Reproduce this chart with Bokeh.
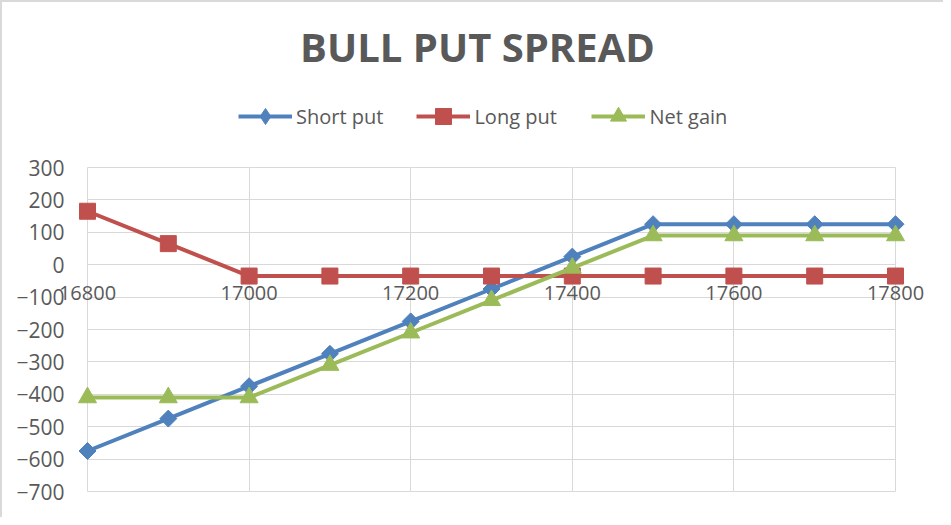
import numpy as np
from bokeh.plotting import figure
from bokeh.layouts import column
from bokeh.models import (FixedTicker, Range1d, Legend, LegendItem, Grid, ColumnDataSource, Label)
from bokeh.core.properties import value
from bokeh.embed import file_html
from bokeh.resources import INLINE

# ---- data ----
strikes = [16800, 16900, 17000, 17100, 17200, 17300, 17400, 17500, 17600, 17700, 17800]
short_put = [-575, -475, -375, -275, -175, -75, 25, 125, 125, 125, 125]
long_put = [165, 65, -35, -35, -35, -35, -35, -35, -35, -35, -35]
net_gain = [-410, -410, -410, -310, -210, -110, -10, 90, 90, 90, 90]
x_ticks = [16800, 17000, 17200, 17400, 17600, 17800]
y_ticks = [-700, -600, -500, -400, -300, -200, -100, 0, 100, 200, 300]
x_axis_cross = 0
series_names = ["Short put", "Long put", "Net gain"]
title_text = "BULL PUT SPREAD"

# ---- styles ----
BLUE, RED, GREEN = "#4F81BD", "#C0504D", "#9BBB59"
TXT = "#595959"
GRID = "#D9D9D9"
FONT = "Open Sans"
W, HEAD_H, MAIN_H = 941, 150, 365

# ---- header (title + legend) ----
head = figure(width=W, height=HEAD_H, x_range=Range1d(0, 1), y_range=Range1d(0, 1),
              output_backend="svg", toolbar_location=None,
              x_axis_location=None, y_axis_location=None, min_border=0)
head.outline_line_color = None
head.xgrid.visible = False
head.ygrid.visible = False

head.add_layout(Label(x=390, y=106, x_units="screen", y_units="screen", text=title_text,
                      text_align="center", text_baseline="alphabetic", text_font=FONT,
                      text_font_style="bold", text_font_size="40px", text_color=TXT))

# ---- main chart ----
p = figure(width=W, height=MAIN_H,
           x_range=Range1d(x_ticks[0], x_ticks[-1]), y_range=Range1d(y_ticks[0], y_ticks[-1]),
           output_backend="svg", toolbar_location=None, x_axis_location=None,
           min_border_left=85, min_border_right=48, min_border_top=15, min_border_bottom=26)
p.outline_line_color = GRID
p.outline_line_width = 1

ya = p.yaxis[0]
ya.ticker = FixedTicker(ticks=y_ticks)
ya.axis_line_color = None
ya.major_tick_line_color = None
ya.minor_tick_line_color = None
ya.major_tick_out = 0
ya.major_tick_in = 0
ya.major_label_standoff = 23
ya.major_label_text_font = FONT
ya.major_label_text_font_size = "21px"
ya.major_label_text_color = TXT
p.ygrid.ticker = FixedTicker(ticks=y_ticks)
p.ygrid.grid_line_color = GRID
p.ygrid.grid_line_width = 1
p.add_layout(Grid(dimension=0, ticker=FixedTicker(ticks=x_ticks),
                  grid_line_color=GRID, grid_line_width=1))

# x tick labels on the horizontal axis crossing at y = 0
xsrc = ColumnDataSource(dict(x=x_ticks, y=[x_axis_cross] * len(x_ticks),
                             t=[str(v) for v in x_ticks]))
p.text(x="x", y="y", text="t", source=xsrc, text_align="center", text_baseline="top",
       y_offset=21, text_font=value(FONT), text_font_size="20px", text_color=TXT,
       level="overlay")

# (series values, colour, plot marker, size, angle, legend marker)
specs = [(short_put, BLUE, "square", 12, np.pi / 4, "diamond"),
         (long_put, RED, "square", 16, 0, "square"),
         (net_gain, GREEN, "triangle", 18, 0, "triangle")]
items = []
for name, (vals, col, mk, sz, ang, lmk) in zip(series_names, specs):
    p.line(strikes, vals, line_color=col, line_width=4, level="overlay")
    p.scatter(strikes, vals, marker=mk, size=sz, angle=ang, fill_color=col,
              line_color=col, level="overlay")
    # legend swatches in the header (same series, lying outside the header's view)
    hl = head.line(strikes, vals, line_color=col, line_width=4)
    hs = head.scatter(strikes, vals, marker=lmk, size=sz, fill_color=col, line_color=col)
    items.append(LegendItem(label=name, renderers=[hl, hs]))

legend = Legend(items=items, orientation="horizontal", location=(151, 16),
                glyph_width=54, glyph_height=40, label_height=40, label_width=84,
                label_standoff=4, spacing=33, padding=0, margin=0,
                border_line_color=None, background_fill_alpha=0,
                label_text_font=FONT, label_text_font_size="20px", label_text_color=TXT)
head.add_layout(legend, "center")

layout = column(head, p, spacing=0)
layout.styles = {"border-left": "2px solid #D9D9D9", "border-top": "2px solid #D9D9D9"}

open("out.html", "w").write(file_html(layout, INLINE))
